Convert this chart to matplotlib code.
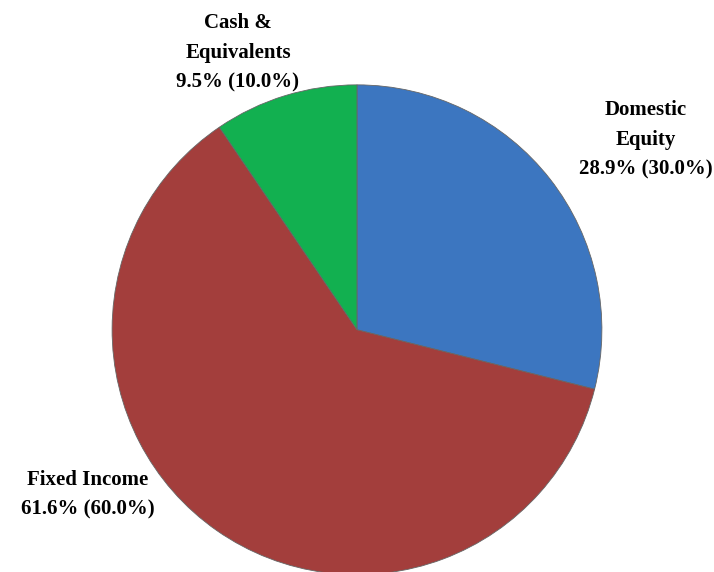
import matplotlib
matplotlib.use("Agg")
import matplotlib.pyplot as plt

categories = ["Domestic\nEquity", "Fixed Income", "Cash &\nEquivalents"]
actual = [28.9, 61.6, 9.5]
target = [30.0, 60.0, 10.0]
colors = ["#3C76C0", "#A33E3C", "#12B050"]

# label positions in data units (pie radius = 1)
label_pos = [(1.18, 0.776), (-1.10, -0.673), (-0.486, 1.13)]

fig = plt.figure(figsize=(7.14, 5.72), dpi=100)
ax = fig.add_axes([0.157, -0.005, 0.686, 0.857])

ax.pie(actual, colors=colors, startangle=90, counterclock=False,
       radius=1, wedgeprops=dict(edgecolor="#666666", linewidth=0.6))

for name, a, t, (x, y) in zip(categories, actual, target, label_pos):
    ax.text(x, y, f"{name}\n{a:.1f}% ({t:.1f}%)", ha="center", va="center",
            fontsize=15, fontweight="bold", family="Liberation Serif",
            linespacing=1.65, clip_on=False)

ax.set_xlim(-1, 1)
ax.set_ylim(-1, 1)
ax.set_aspect("equal")
ax.axis("off")

plt.savefig("out.png", dpi=100)
